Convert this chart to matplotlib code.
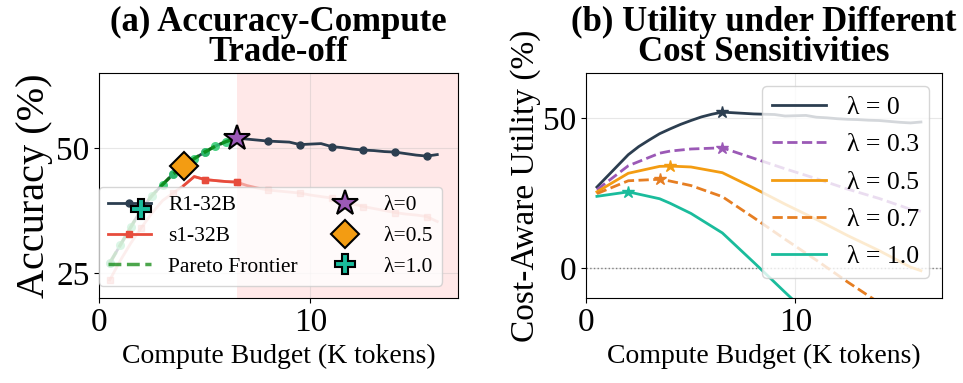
import numpy as np
import matplotlib
matplotlib.use("Agg")
import matplotlib.pyplot as plt

plt.rcParams['font.family'] = ['Liberation Serif', 'DejaVu Serif']
plt.rcParams['mathtext.fontset'] = 'stix'

# compute budget grid (K tokens)
budget = [0.5, 1.0, 1.5, 2.0, 2.5, 3.0, 3.5, 4.0, 4.5, 5.0, 5.5, 6.0, 6.5, 7.0, 7.5, 8.0,
          8.5, 9.0, 9.5, 10.0, 10.5, 11.0, 11.5, 12.0, 12.5, 13.0, 13.5, 14.0, 14.5, 15.0, 15.5, 16.0]

r1_acc = [27.0, 30.6, 34.2, 37.8, 40.5, 42.7, 44.8, 46.4, 47.9, 49.2, 50.4, 51.3, 52.0, 51.8, 51.6, 51.4,
          51.3, 51.2, 50.7, 50.8, 50.9, 50.3, 50.1, 49.8, 49.6, 49.5, 49.3, 49.2, 48.9, 48.6, 48.4, 48.7]
s1_acc = [23.6, 27.5, 31.0, 34.1, 37.0, 39.5, 41.0, 42.5, 44.3, 43.7, 43.5, 43.3, 43.2, 42.5, 42.0, 41.6,
          41.4, 41.2, 41.0, 40.6, 40.3, 40.0, 39.3, 38.8, 38.3, 37.9, 37.5, 37.1, 36.8, 36.6, 36.3, 35.3]

# Pareto frontier (R1 part up to the 6.5K budget)
pareto_budget = budget[:13]
pareto_acc = r1_acc[:13]

# optimal operating points for each lambda
opt_labels = ['λ=0', 'λ=0.5', 'λ=1.0']
opt_budget = [6.5, 4.0, 2.0]
opt_acc = [52.0, 46.4, 37.8]

# cost-aware utility curves
util_budget = [0.5, 2.0, 3.5, 4.0, 5.0, 6.5, 8.0, 9.5, 11.0, 12.5, 14.0, 15.5, 16.0]
util_l03 = [26.1, 34.1, 38.3, 39.0, 39.7, 40.1, 36.6, 33.1, 29.8, 26.3, 23.2, 19.6, 18.9]
util_l05 = [25.4, 31.6, 33.9, 34.0, 33.7, 31.8, 26.7, 21.3, 16.2, 10.8, 5.8, 0.3, -0.9]
util_l07 = [24.8, 29.1, 29.6, 29.0, 27.5, 23.8, 16.8, 9.6, 2.6, -4.7, -11.6, -18.5, -20.8]
util_l10 = [23.9, 25.4, 23.1, 21.6, 18.2, 11.7, 1.9, -8.1, -17.9, -27.9, -37.6, -47.7, -50.5]

navy = '#2c3e50'
red = '#e74c3c'

fig = plt.figure(figsize=(9.63, 3.83), dpi=100)
ax1 = fig.add_axes([0.103, 0.222, 0.373, 0.587])
ax2 = fig.add_axes([0.609, 0.222, 0.369, 0.587])

# ---- (a) accuracy vs compute
ax1.axvspan(6.5, 17, color='red', alpha=0.09, lw=0, zorder=0)
ax1.plot(budget, r1_acc, '-o', color=navy, lw=2, ms=5, markevery=3, label='R1-32B', zorder=3)
ax1.plot(budget, s1_acc, '-s', color=red, lw=2, ms=5, markevery=3, alpha=0.45, zorder=2)
ax1.plot(budget[7:13], s1_acc[7:13], '-s', color=red, lw=2, ms=5, markevery=(2, 3),
         label='s1-32B', zorder=2)
ax1.plot(pareto_budget, pareto_acc, 'o', color='#2ecc71', ms=6.5, alpha=0.85, mew=0, zorder=4)
ax1.plot(pareto_budget, pareto_acc, '--', color='green', lw=2.5, alpha=0.7,
         label='Pareto Frontier', zorder=4)

opt_style = [('*', '#9b59b6', 19), ('D', '#f39c12', 14), ('P', '#1abc9c', 15)]
for lab, xb, ya, (m, c, s) in zip(opt_labels, opt_budget, opt_acc, opt_style):
    ax1.plot(xb, ya, m, color=c, ms=s, mec='black', mew=1.5, label=lab, zorder=6, linestyle='none')

ax1.set_xlim(0, 17)
ax1.set_ylim(20, 65)
ax1.set_xticks([0, 10])
ax1.set_yticks([25, 50])
ax1.grid(True, alpha=0.3)
ax1.tick_params(labelsize=24)
ax1.set_xlabel('Compute Budget (K tokens)', fontsize=20)
ax1.set_ylabel('Accuracy (%)', fontsize=29, labelpad=2)
ax1.set_title('(a) Accuracy-Compute\nTrade-off', fontsize=25, fontweight='bold',
              linespacing=0.85, pad=9)
ax1.legend(loc='lower left', bbox_to_anchor=(0, 0.055), ncol=2, fontsize=15.5, framealpha=0.8,
           borderaxespad=0, columnspacing=1.2, handlelength=2.0)

# ---- (b) utility under cost sensitivities
ax2.axhline(0, color='gray', ls=':', lw=1)
curves = [(r1_acc, budget, 'λ = 0', navy, '-'),
          (util_l03, util_budget, 'λ = 0.3', '#9b59b6', '--'),
          (util_l05, util_budget, 'λ = 0.5', '#f39c12', '-'),
          (util_l07, util_budget, 'λ = 0.7', '#e67e22', '--'),
          (util_l10, util_budget, 'λ = 1.0', '#1abc9c', '-')]
for vals, xs, lab, c, ls in curves:
    ax2.plot(xs, vals, ls, color=c, lw=2, label=lab)
    i = int(np.argmax(vals))
    ax2.plot(xs[i], vals[i], '*', color=c, ms=9)

ax2.set_xlim(0, 17)
ax2.set_ylim(-10, 65)
ax2.set_xticks([0, 10])
ax2.set_yticks([0, 50])
ax2.grid(True, alpha=0.3)
ax2.tick_params(labelsize=24)
ax2.set_xlabel('Compute Budget (K tokens)', fontsize=20)
ax2.set_ylabel('Cost-Aware Utility (%)', fontsize=24, labelpad=2)
ax2.set_title('(b) Utility under Different\nCost Sensitivities', fontsize=25, fontweight='bold',
              linespacing=0.85, pad=9)
ax2.legend(loc='upper right', fontsize=18.5, framealpha=0.8, handlelength=2.1,
           labelspacing=0.55, borderaxespad=0.5)

fig.savefig('out.png', dpi=100)
